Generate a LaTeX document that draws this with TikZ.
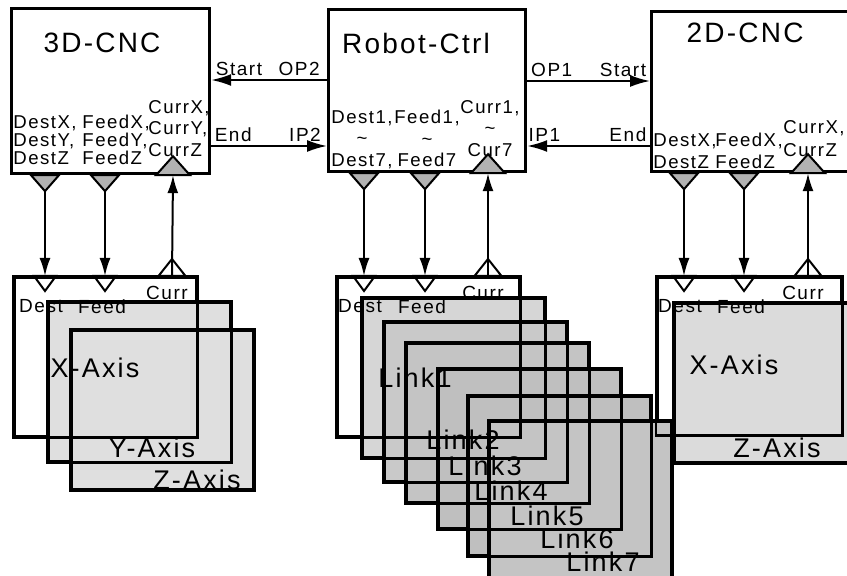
\documentclass[tikz,border=0pt]{standalone}
\usepackage{fontspec}
\setmainfont{Liberation Sans}
\newfontfamily\diagfont[LetterSpace=8]{Liberation Sans}
\usepackage{tikz}
\usetikzlibrary{arrows.meta, positioning, calc}

\begin{document}
\begin{tikzpicture}[
    x=0.5pt, y=-0.5pt,
    ctrlbox/.style={
        rectangle,
        draw,
        line width=1.6pt,
        fill=white,
        anchor=north west,
        inner sep=0pt
    },
    axisbox/.style={
        rectangle,
        draw,
        line width=1.4pt,
        anchor=north west,
        inner sep=0pt,
        minimum width=91pt,
        minimum height=79.5pt
    },
    boxline/.style={line width=1.4pt},
    title/.style={font=\diagfont\fontsize{14}{16}\selectfont, inner sep=0pt},
    sig/.style={font=\diagfont\fontsize{9.5}{10}\selectfont, inner sep=1.5pt},
    porttxt/.style={font=\diagfont\fontsize{9.3}{#1}\selectfont, align=left, inner sep=0pt, anchor=north west},
    porttxt/.default=9pt,
    portmid/.style={porttxt=#1, align=center, anchor=north},
    portmid/.default=10.75pt,
    axistxt/.style={font=\diagfont\fontsize{13.5}{15}\selectfont, inner sep=0pt},
    arrow/.style={
        -{Latex[length=10pt, width=6pt]},
        line width=1pt
    },
    varrow/.style={
        -{Latex[length=9pt, width=5.5pt]},
        line width=1pt
    },
    outport/.style={draw, line width=1pt, fill=gray!60},
    inport/.style={draw, line width=1pt}
]
\useasboundingbox (0,0) rectangle (847,576);
\clip (0,0) rectangle (847,576);

% Axis boxes of the 2D-CNC
\node[axisbox, fill=white, minimum width=92pt, minimum height=78.5pt] (xaxis2) at (656,276) {};
\node[axisbox, fill=gray!28, minimum width=95pt] (zaxis2) at (673,302) {};

% Axis boxes of the 3D-CNC
\node[axisbox, fill=white] (xaxis) at (13,276) {};
\node[axisbox, fill=gray!25] (yaxis) at (47,301) {};
\node[axisbox, fill=gray!25] (zaxis) at (70,329) {};

% Robot links
\node[axisbox, fill=white] (link1) at (336,276) {};
\foreach \k/\x/\y/\g in {2/361/297/32, 3/383/321/42, 4/405/342/46, 5/437/368/50, 6/467/395/50, 7/488/420/46}
    \node[axisbox, fill=gray!\g] (link\k) at (\x,\y) {};

% Outlines on top
\foreach \n in {xaxis2, zaxis2, xaxis, yaxis, zaxis, link1, link2, link3, link4, link5, link6, link7}
    \draw[boxline] (\n.north west) rectangle (\n.south east);

% Axis labels
\node[axistxt] (xlbl) at (95,368) {X-Axis};
\node[axistxt] (ylbl) at (152,448) {Y-Axis};
\node[axistxt] (zlbl) at (197,480) {Z-Axis};
\node[axistxt] (lbl1) at (415,378) {Link1};
\foreach \k/\lx/\ly in {2/463/440, 3/485/466, 4/511/491, 5/547/516, 6/577/539, 7/603/562}
    \node[axistxt] (lbl\k) at (\lx,\ly) {Link\k};
\node[axistxt] (x2lbl) at (734,365) {X-Axis};
\node[axistxt] (z2lbl) at (777,448) {Z-Axis};

% Ports of the lower boxes
\coordinate (xd) at (45,0 |- xaxis.north);
\coordinate (xf) at (105,0 |- xaxis.north);
\coordinate (xc) at (172,0 |- xaxis.north);
\coordinate (ld) at (364,0 |- link1.north);
\coordinate (lf) at (425,0 |- link1.north);
\coordinate (lc) at (488,0 |- link1.north);
\coordinate (x2d) at (684,0 |- xaxis2.north);
\coordinate (x2f) at (744,0 |- xaxis2.north);
\coordinate (x2c) at (808,0 |- xaxis2.north);

\foreach \p in {xd, ld, x2d}
    \node[sig] (\p-txt) at ($(\p)+(-4,30)$) {Dest};
\foreach \p in {xf, lf, x2f}
    \node[sig] (\p-txt) at ($(\p)+(-3,31)$) {Feed};
\foreach \p in {xc, lc, x2c}
    \node[sig] (\p-txt) at ($(\p)+(-5,17)$) {Curr};

% Controllers
\node[ctrlbox, minimum width=99pt, minimum height=82.5pt] (cnc3) at (10,7) {};
\node[ctrlbox, minimum width=98.5pt, minimum height=81pt] (robot) at (327,8) {};
\node[ctrlbox, minimum width=100pt, minimum height=80pt] (cnc2) at (650,10) {};

\node[title] (cnc3-title) at (102,43) {3D-CNC};
\node[title] (robot-title) at (416,44) {Robot-Ctrl};
\node[title] (cnc2-title) at (745,33) {2D-CNC};

\node[porttxt] (cnc3-dest) at (13,115) {DestX,\\DestY,\\DestZ};
\node[porttxt] (cnc3-feed) at (82,115) {FeedX,\\FeedY,\\FeedZ};
\node[porttxt=10.75pt] (cnc3-curr) at (148,100) {CurrX,\\CurrY,\\CurrZ};
\node[portmid] (robot-dest) at (362,110) {Dest1,\\\textasciitilde\\Dest7,};
\node[portmid] (robot-feed) at (427,110) {Feed1,\\\textasciitilde\\Feed7};
\node[portmid] (robot-curr) at (490,100) {Curr1,\\\textasciitilde\\Cur7};
\node[porttxt=11pt] (cnc2-dest) at (653,133) {DestX,\\DestZ};
\node[porttxt=11pt] (cnc2-feed) at (715,133) {FeedX,\\FeedZ};
\node[porttxt=11.5pt] (cnc2-curr) at (783,120) {CurrX,\\CurrZ};

% Handshake signals
\coordinate (op2) at (robot.west |- 0,80);
\coordinate (ip2) at (cnc3.east |- 0,146);
\coordinate (op1) at (robot.east |- 0,81);
\coordinate (ip1) at (cnc2.west |- 0,146);
\draw[arrow] (op2) -- node[sig, above, pos=0.24] (op2-txt) {OP2} node[sig, above, pos=0.76] (start3) {Start} (op2 -| cnc3.east);
\draw[arrow] (ip2) -- node[sig, above, pos=0.19] (end3) {End} node[sig, above, pos=0.81] (ip2-txt) {IP2} (ip2 -| robot.west);
\draw[arrow] (op1) -- node[sig, above, pos=0.2] (op1-txt) {OP1} node[sig, above, pos=0.78] (start2) {Start} (op1 -| cnc2.west);
\draw[arrow] (ip1) -- node[sig, above, pos=0.18] (end2) {End} node[sig, above, pos=0.86] (ip1-txt) {IP1} (ip1 -| robot.east);

% Ports of the controllers
\coordinate (c3d) at (45,0 |- cnc3.south);
\coordinate (c3f) at (105,0 |- cnc3.south);
\coordinate (c3c) at (173,0 |- cnc3.south);
\coordinate (rd) at (364,0 |- robot.south);
\coordinate (rf) at (425,0 |- robot.south);
\coordinate (rc) at (488,0 |- robot.south);
\coordinate (c2d) at (684,0 |- cnc2.south);
\coordinate (c2f) at (744,0 |- cnc2.south);
\coordinate (c2c) at (808,0 |- cnc2.south);

% Dest/Feed down, Curr up
\foreach \a/\b in {c3d/xd, c3f/xf, rd/ld, rf/lf, c2d/x2d, c2f/x2f}
    \draw[varrow] (\a) -- (\b);
\foreach \a/\b in {xc/c3c, lc/rc, x2c/c2c}
    \draw[varrow] (\a) -- (\b);

\foreach \p in {c3d, c3f, rd, rf, c2d, c2f}
    \draw[outport] (\p) ++(-14,0) -- ++(28,0) -- ++(-14,16) -- cycle;
\foreach \p in {c3c, rc, c2c}
    \draw[outport] (\p) ++(-17,0) -- ++(34,0) -- ++(-17,-19) -- cycle;
\foreach \p in {xd, xf, ld, lf, x2d, x2f}
    \draw[inport] (\p) ++(-11,0) -- ++(22,0) -- ++(-11,15) -- cycle;
\foreach \p in {xc, lc, x2c}
    \draw[inport] (\p) ++(-13.5,0) -- ++(27,0) -- ++(-13.5,-17) -- cycle;
\end{tikzpicture}
\end{document}
